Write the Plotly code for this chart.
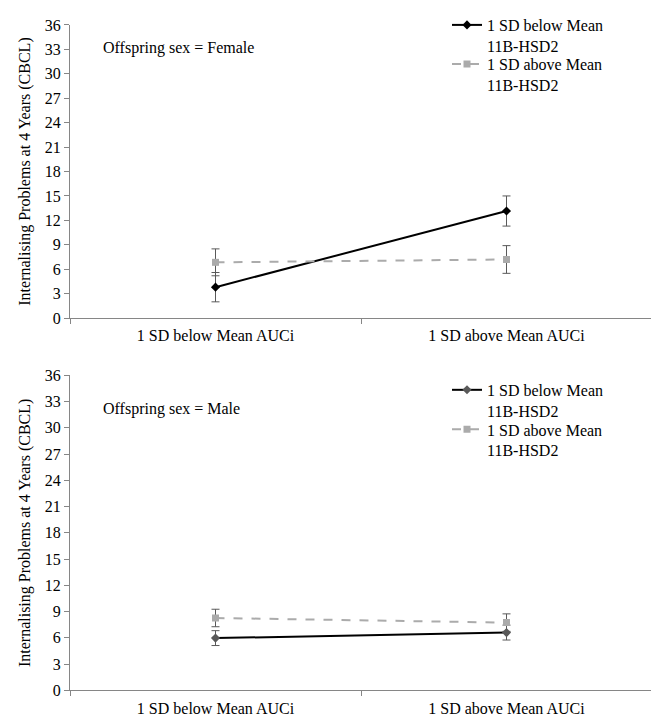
import plotly.graph_objects as go

categories = ["1 SD below Mean AUCi", "1 SD above Mean AUCi"]
series_names = ["1 SD below Mean<br>11B-HSD2", "1 SD above Mean<br>11B-HSD2"]
panel_labels = ["Offspring sex = Female", "Offspring sex = Male"]

female_low = [3.8, 13.15]
female_low_err = [1.8, 1.85]
female_high = [6.85, 7.2]
female_high_err = [1.65, 1.7]

male_low = [5.97, 6.6]
male_low_err = [0.85, 0.85]
male_high = [8.27, 7.74]
male_high_err = [1.0, 1.0]

y_ticks = list(range(0, 37, 3))

FONT = "Liberation Serif"
FS = 16
AXIS_GRAY = "#868686"
ERR_GRAY = "#595959"
LIGHT = "#ABABAB"

fig = go.Figure()

panels = [
    (female_low, female_low_err, female_high, female_high_err, "black", "x", "y", "legend", "legend3"),
    (male_low, male_low_err, male_high, male_high_err, "#595959", "x2", "y2", "legend2", "legend4"),
]

for lo, lo_e, hi, hi_e, lo_marker, xa, ya, lg1, lg2 in panels:
    fig.add_trace(go.Scatter(
        x=categories, y=lo, name=series_names[0], mode="lines+markers",
        line=dict(color="black", width=2),
        marker=dict(symbol="diamond", size=7, color=lo_marker),
        error_y=dict(type="data", array=lo_e, color=ERR_GRAY, thickness=1, width=4),
        xaxis=xa, yaxis=ya, legend=lg1,
    ))
    fig.add_trace(go.Scatter(
        x=categories, y=hi, name=series_names[1], mode="lines+markers",
        line=dict(color=LIGHT, width=2, dash="dash"),
        marker=dict(symbol="square", size=7, color=LIGHT),
        error_y=dict(type="data", array=hi_e, color=ERR_GRAY, thickness=1, width=4),
        xaxis=xa, yaxis=ya, legend=lg2,
    ))

# page body has an 8px margin; work in figure coordinates = screen - 8
W, H = 651, 708
OFF = 8


def px_x(sx):
    return (sx - OFF) / W


def px_y(sy):
    return 1 - (sy - OFF) / H


x_dom = [px_x(70), min(1.0, px_x(652))]
top_dom = [px_y(313), px_y(16)]
bot_dom = [px_y(690), px_y(371)]

xcommon = dict(
    type="category", range=[-0.5, 1.5], showline=True, linecolor=AXIS_GRAY, linewidth=1,
    ticks="outside", tickson="boundaries", ticklen=5, tickcolor=AXIS_GRAY,
    showgrid=False, zeroline=False, automargin=False, ticklabelstandoff=3,
    tickfont=dict(family=FONT, size=FS, color="black"), domain=x_dom,
)
ycommon = dict(
    range=[0, 36], tickvals=y_ticks, showline=True, linecolor=AXIS_GRAY, linewidth=1,
    ticks="outside", ticklen=5, tickcolor=AXIS_GRAY, showgrid=False, zeroline=False,
    automargin=False, tickfont=dict(family=FONT, size=FS, color="black"),
    title=dict(text="Internalising Problems at 4 Years (CBCL)",
               font=dict(family=FONT, size=FS, color="black"), standoff=10),
)


def legend_at(sx, sy):
    return dict(x=px_x(sx), y=px_y(sy), xanchor="left", yanchor="top", valign="top",
                bgcolor="rgba(0,0,0,0)", font=dict(family=FONT, size=FS), tracegroupgap=0)


fig.update_layout(
    width=W, height=H, margin=dict(l=0, r=0, t=0, b=0),
    paper_bgcolor="white", plot_bgcolor="white",
    font=dict(family=FONT, size=FS, color="black"),
    xaxis=dict(**xcommon, anchor="y"),
    yaxis=dict(**ycommon, domain=top_dom, anchor="x"),
    xaxis2=dict(**xcommon, anchor="y2"),
    yaxis2=dict(**ycommon, domain=bot_dom, anchor="x2"),
    legend=legend_at(447, -1.5),
    legend3=legend_at(447, 38.5),
    legend2=legend_at(447, 368.5),
    legend4=legend_at(447, 408.5),
    showlegend=True,
)

fig.add_annotation(text=panel_labels[0], xref="paper", yref="paper",
                   x=px_x(101), y=px_y(39), xanchor="left", yanchor="middle",
                   showarrow=False, font=dict(family=FONT, size=FS, color="black"))
fig.add_annotation(text=panel_labels[1], xref="paper", yref="paper",
                   x=px_x(101), y=px_y(405), xanchor="left", yanchor="middle",
                   showarrow=False, font=dict(family=FONT, size=FS, color="black"))

fig.write_html("out.html")
